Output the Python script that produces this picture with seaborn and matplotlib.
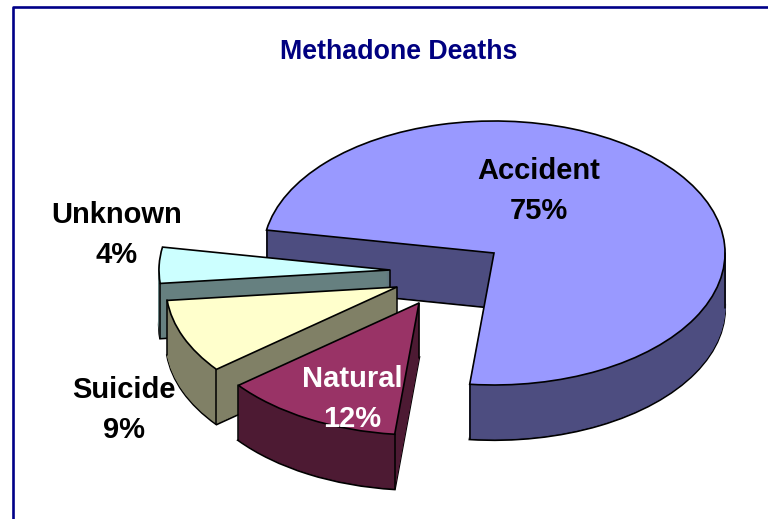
import numpy as np
import matplotlib
matplotlib.use("Agg")
import matplotlib.pyplot as plt
import seaborn as sns

labels = ["Accident", "Natural", "Suicide", "Unknown"]
percent = [75, 12, 9, 4]
# slice sizes as actually drawn in the picture, the printed labels are rounded
share = [73.9, 12.6, 9.1, 4.4]
colors = ["#9999FF", "#993366", "#FFFFCC", "#CCFFFF"]
label_colors = ["black", "white", "black", "black"]

sns.set_theme(style="white")
plt.rcParams["font.family"] = ["Liberation Sans", "DejaVu Sans"]

# pixel layout of the exploded pie
W, H = 768, 519
RX, RY = 231.0, 132.0
DEPTH = 55
apex = [(494, 253), (419, 303), (397, 287), (390, 270)]
label_pos = [(539, 171), (352, 379), (124, 390), (117, 215)]
stack = [0, 3, 2, 1]  # back to front
side = [tuple(c * 0.5 for c in col) for col in sns.color_palette(colors)]
side[3] = "#668080"


def X(px):
	return px / RX


def Y(py):
	return -py / RY


def layer(cols, d, zbase, edge=None, lw=0.6):
	# one whole pie, every slice moved to its own apex, d pixels down
	wedges, _ = ax.pie(share, colors=cols, startangle=170, counterclock=False)
	for i, w in enumerate(wedges):
		w.set_center((X(apex[i][0]), Y(apex[i][1] + d)))
		w.set_zorder(10 * stack[i] + zbase)
		w.set_linewidth(lw)
		w.set_edgecolor(edge if edge else cols[i])
	return wedges


fig = plt.figure(figsize=(W / 100, H / 100), dpi=100)
ax = fig.add_axes([0, 0, 1, 1])

layer(side, DEPTH, 1, edge="black", lw=1.6)
for d in range(DEPTH - 1, 0, -1):
	layer(side, d, 2)
top = layer(colors, 0, 4, edge="black", lw=1.2)

# upright edges of the slices
for i, w in enumerate(top):
	angs = [w.theta1, w.theta2]
	if i == 0:
		angs.append(0)
	else:
		angs = [a for a in angs if a % 360 > 180]
	xs = [apex[i][0]] + [apex[i][0] + RX * np.cos(np.radians(a)) for a in angs]
	ys = [apex[i][1]] + [apex[i][1] - RY * np.sin(np.radians(a)) for a in angs]
	for x, y in zip(xs, ys):
		ax.plot([X(x), X(x)], [Y(y), Y(y + DEPTH)], color="black", lw=1.1, zorder=10 * stack[i] + 3)

ax.set_aspect("auto")
ax.set_xlim(0, X(W))
ax.set_ylim(Y(H), 0)
ax.axis("off")

# chart frame, runs off the page at right and bottom
ax.plot([X(13), X(13), X(W)], [Y(H), Y(7), Y(7)], color="#000088", lw=1.9, zorder=100)

ax.text(X(399), Y(52), "Methadone Deaths", color="#000080", fontsize=19.3, fontweight="bold",
        ha="center", va="center", zorder=100)

for i in range(len(labels)):
	x, y = label_pos[i]
	ax.text(X(x), Y(y), labels[i], color=label_colors[i], fontsize=21, fontweight="bold",
	        ha="center", va="center", zorder=100)
	t = ax.text(X(x), Y(y + 40), str(percent[i]) + "%", color=label_colors[i], fontsize=21,
	            fontweight="bold", ha="center", va="center", zorder=100)
	if label_colors[i] == "white":
		t.set_clip_path(top[i])

fig.savefig("out.png", dpi=100)
